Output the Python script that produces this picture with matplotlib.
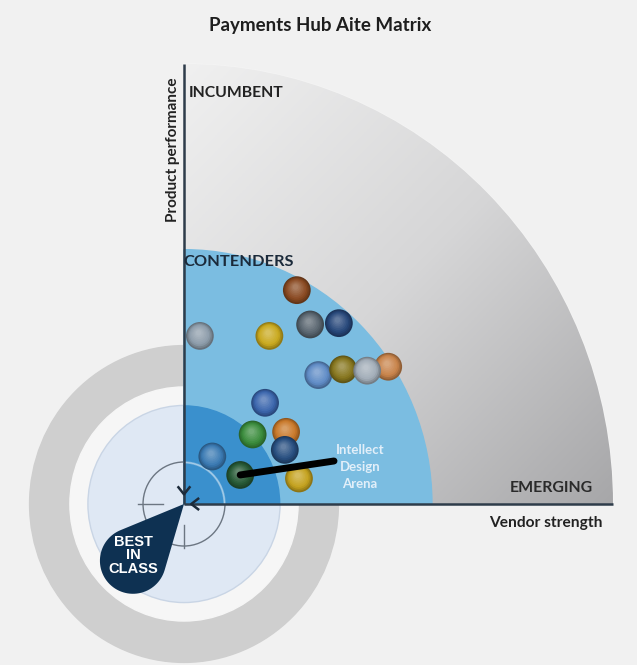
import numpy as np
import matplotlib
matplotlib.use("Agg")
import matplotlib.pyplot as plt
from matplotlib.patches import Wedge, Circle, PathPatch
from matplotlib.path import Path
from matplotlib.colors import LinearSegmentedColormap, to_rgb

plt.rcParams['font.family'] = ['Lato', 'DejaVu Sans']

# vendor positions (0-10 scale, 10 = outer arc)
vendors = ['v1', 'v2', 'v3', 'v4', 'v5', 'v6', 'v7', 'v8', 'v9', 'v10',
           'v11', 'v12', 'v13', 'v14', 'Intellect Design Arena', 'v16']
vendor_strength = [2.63, 0.37, 1.99, 2.94, 3.61, 3.13, 3.71, 4.76, 4.27, 1.89,
                   1.60, 2.38, 2.35, 0.66, 1.31, 2.68]
product_perf = [4.86, 3.82, 3.82, 4.08, 4.11, 2.93, 3.06, 3.12, 3.03, 2.30,
                1.58, 1.64, 1.23, 1.08, 0.66, 0.58]
ball_colors = ['#8a4a22', '#8d9caa', '#c9a91e', '#59656f', '#27477a', '#5f8cc6',
               '#86761e', '#c8834a', '#a2adb8', '#3b66ad', '#3a8c3c', '#c9792a',
               '#284f80', '#3a7ab3', '#275a36', '#c4a21e']

zone_labels = ['INCUMBENT', 'CONTENDERS', 'EMERGING']

# pixel layout helpers
W, H = 637, 665
OX, OY = 184, 504
SX, SY = 42.9, 44.0


def px(x, y):
    return (x - OX) / SX, (OY - y) / SY


fig = plt.figure(figsize=(W / 100, H / 100), dpi=100)
fig.patch.set_facecolor('#f1f1f1')
ax = fig.add_axes([0, 0, 1, 1])
ax.set_xlim(px(0, 0)[0], px(W, 0)[0])
ax.set_ylim(px(0, H)[1], px(0, 0)[1])
ax.axis('off')

# target rings around origin
ax.add_patch(Circle((0, 0), 3.60, color='#cfcfcf', zorder=1))
ax.add_patch(Circle((0, 0), 2.66, color='#f6f6f6', zorder=1))
ax.add_patch(Circle((0, 0), 2.24, facecolor='#dfe8f4', edgecolor='#c9d5e5', lw=1, zorder=1))

# crosshair
ax.add_patch(Circle((0, 0), 0.955, fill=False, edgecolor='#6c7682', lw=1, zorder=2))
ax.plot([-1.07, -0.49], [0, 0], color='#6c7682', lw=1, zorder=2)
ax.plot([0, 0], [-0.48, -1.0], color='#6c7682', lw=1, zorder=2)

# gray outer quadrant with gradient
outer = Wedge((0, 0), 10, 0, 90, facecolor='none', edgecolor='#f4f4f4', lw=1.2, zorder=3)
ax.add_patch(outer)
gx, gy = np.meshgrid(np.linspace(0, 10, 300), np.linspace(0, 10, 300))
grad = (gx - gy + 10) / 20
cmap = LinearSegmentedColormap.from_list('g', ['#f0f0f0', '#d6d6d7', '#a7a7a9'])
im = ax.imshow(grad, extent=[0, 10, 0, 10], origin='lower', cmap=cmap,
               vmin=0, vmax=1, aspect='auto', zorder=3, interpolation='bilinear')
im.set_clip_path(outer)

# contenders / leaders zones
ax.add_patch(Wedge((0, 0), 5.78, 0, 90, color='#7bbde1', zorder=4))
ax.add_patch(Wedge((0, 0), 2.23, 0, 90, color='#3a90cd', zorder=4))

# faint crosshair arc inside the quadrant
ax.add_patch(Wedge((0, 0), 0.955, 0, 90, width=0.02, color='white', alpha=0.35, zorder=4))

# axes lines
ax.plot([0, 0], [0, 10], color='#2e3c4a', lw=1.8, zorder=6, solid_capstyle='butt')
ax.plot([0, 10], [0, 0], color='#2e3c4a', lw=1.8, zorder=6, solid_capstyle='butt')
ax.plot([-0.13, 0, 0.13], [0.38, 0.22, 0.38], color='#1d2b3a', lw=1.8, zorder=7)
ax.plot([0.33, 0.17, 0.33], [0.12, 0, -0.12], color='#1d2b3a', lw=1.8, zorder=7)

# best in class teardrop
cx, cy, r = -1.19, -1.29, 0.77
d = np.hypot(cx, cy)
base = np.arctan2(-cy, -cx)
half = np.pi / 2 - np.arcsin(r / d)
angs = np.linspace(base + half, base + 2 * np.pi - half, 60)
verts = [(0, 0)] + [(cx + r * np.cos(a), cy + r * np.sin(a) * SX / SY) for a in angs] + [(0, 0)]
drop = Path(verts, [Path.MOVETO] + [Path.LINETO] * (len(verts) - 2) + [Path.CLOSEPOLY])
ax.add_patch(PathPatch(drop, facecolor='#0e3152', edgecolor='none', zorder=7))
ax.text(cx, cy + 0.12, 'BEST\nIN\nCLASS', color='white', fontsize=10.5, fontweight='bold',
        family=['Liberation Sans', 'DejaVu Sans'], ha='center', va='center',
        linespacing=0.92, zorder=8)


# vendor balls drawn as shaded spheres
def sphere(x, y, col, z):
    base_rgb = np.array(to_rgb(col))
    n = 9
    for k in range(n):
        t = k / (n - 1)
        size = 400 * (1 - 0.8 * t) ** 2
        if t < 0.3:
            c = base_rgb * (0.72 + 0.28 * t / 0.3)
        else:
            c = base_rgb + (1 - base_rgb) * 0.28 * (t - 0.3) / 0.7
        ox = -0.03 * t
        oy = 0.07 * t
        ax.scatter(x + ox, y + oy, s=size, color=np.clip(c, 0, 1), edgecolors='none',
                   zorder=z + k * 0.001)


for i, (vx, vy, col) in enumerate(zip(vendor_strength, product_perf, ball_colors)):
    sphere(vx, vy, col, 10 + i * 0.05)

# Intellect callout
ix = vendors.index('Intellect Design Arena')
lx, ly = px(334, 461)
ax.annotate('', xy=(vendor_strength[ix], product_perf[ix]), xytext=(lx, ly),
            arrowprops=dict(arrowstyle='-', color='black', lw=5, shrinkA=0, shrinkB=0),
            zorder=12)
tx, ty = px(360, 467)
ax.text(tx, ty, 'Intellect\nDesign\nArena', color='#e2eff9', fontsize=9.5, fontweight='bold',
        ha='center', va='center', linespacing=1.55, zorder=12)

# labels
ax.text(*px(189, 93), zone_labels[0], fontsize=11.3, fontweight='bold', color='#222222',
        ha='left', va='center', zorder=9)
ax.text(*px(183, 262), zone_labels[1], fontsize=11.8, fontweight='bold', color='#1b2a3a',
        ha='left', va='center', zorder=9)
ax.text(*px(593, 488), zone_labels[2], fontsize=11.4, fontweight='bold', color='#2a2a2a',
        ha='right', va='center', zorder=9)
ax.text(*px(603, 523), 'Vendor strength', fontsize=11.2, fontweight='bold', color='#222222',
        ha='right', va='center', zorder=9)
ax.text(*px(173, 150), 'Product performance', fontsize=11, fontweight='bold', color='#222222',
        ha='center', va='center', rotation=90, zorder=9)
fig.text(320 / W, 1 - 25 / H, 'Payments Hub Aite Matrix', fontsize=13.5, fontweight='bold',
         color='#1e1e1e', ha='center', va='center')

fig.savefig('out.png', dpi=100, facecolor=fig.get_facecolor())
